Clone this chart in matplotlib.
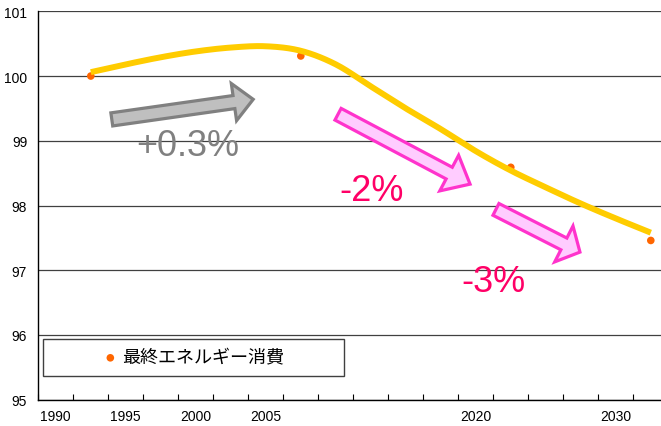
import numpy as np
import matplotlib
matplotlib.use("Agg")
import matplotlib.pyplot as plt
from matplotlib.patches import FancyArrowPatch, Rectangle

# ---- data ----
tick_years = [1990, 1995, 2000, 2005, 2020, 2030]
tick_labels = ["1990", "1995", "2000", "2005", "2020", "2030"]
point_years = [1992.5, 2007.5, 2022.5, 2032.5]
point_values = [100.0, 100.31, 98.59, 97.46]
curve_years = [1992.5, 1995.0, 1997.5, 2000.0, 2002.5, 2005.0, 2007.5, 2010.0,
               2012.5, 2015.0, 2017.5, 2020.0, 2022.5, 2025.0, 2027.5, 2030.0, 2032.5]
curve_values = [100.06, 100.18, 100.29, 100.38, 100.44, 100.46, 100.39, 100.18,
                99.84, 99.50, 99.18, 98.84, 98.54, 98.28, 98.03, 97.80, 97.58]
legend_label = "最終エネルギー消費"
rate_labels = ["+0.3%", "-2%", "-3%"]

plt.rcParams['font.family'] = ['Liberation Sans', 'DejaVu Sans']

fig = plt.figure(figsize=(6.61, 4.27), dpi=100)
ax = fig.add_axes([38.3 / 661, 26.3 / 427, 630 / 661, 388.4 / 427])

x0 = 1988.75
ax.set_xlim(x0, x0 + 18 * 2.5)
ax.set_ylim(95, 101)

# smooth curve (Catmull-Rom through the trend values)
def catmull(xs, ys, n=20):
    xs = np.asarray(xs, float); ys = np.asarray(ys, float)
    px = np.concatenate([[2 * xs[0] - xs[1]], xs, [2 * xs[-1] - xs[-2]]])
    py = np.concatenate([[2 * ys[0] - ys[1]], ys, [2 * ys[-1] - ys[-2]]])
    ox, oy = [], []
    t = np.linspace(0, 1, n, endpoint=False)
    for i in range(1, len(px) - 2):
        for arr, out in ((px, ox), (py, oy)):
            p0, p1, p2, p3 = arr[i - 1], arr[i], arr[i + 1], arr[i + 2]
            out.extend(0.5 * ((2 * p1) + (-p0 + p2) * t + (2 * p0 - 5 * p1 + 4 * p2 - p3) * t ** 2
                              + (-p0 + 3 * p1 - 3 * p2 + p3) * t ** 3))
    ox.append(xs[-1]); oy.append(ys[-1])
    return np.array(ox), np.array(oy)

ax.yaxis.grid(True, color='#404040', lw=0.9, zorder=0)
ax.set_axisbelow(True)

ax.scatter(point_years, point_values, s=30, color='#FF6600', zorder=3,
           label=legend_label, edgecolors='none')
sx, sy = catmull(curve_years, curve_values)
ax.plot(sx, sy, color='#FFCC00', lw=4.3, solid_capstyle='butt', zorder=4)

# ticks
ax.set_xticks(tick_years)
ax.set_xticklabels(tick_labels)
ax.set_xticks([x0 + 2.5 * k for k in range(19)], minor=True)
ax.tick_params(axis='x', which='major', length=0, pad=7, labelsize=10)
ax.tick_params(axis='x', which='minor', length=4, direction='in', width=0.8)
ax.set_yticks([95, 96, 97, 98, 99, 100, 101])
ax.tick_params(axis='y', length=0, pad=8, labelsize=10)
for s in ['top', 'right']:
    ax.spines[s].set_visible(False)
for s in ['left', 'bottom']:
    ax.spines[s].set_color('black')
    ax.spines[s].set_linewidth(1.0)

# arrows
def block_arrow(tail, tip, tw, hw, hl, fc, ec):
    a = FancyArrowPatch(tail, tip, arrowstyle=f"simple,head_width={hw},head_length={hl},tail_width={tw}",
                        mutation_scale=1, fc=fc, ec=ec, lw=2.3, shrinkA=0, shrinkB=0, zorder=5,
                        joinstyle='miter')
    ax.add_patch(a)

block_arrow((1994.0, 99.33), (2004.1, 99.64), 9.5, 27, 14, '#BFBFBF', '#808080')
block_arrow((2010.16, 99.41), (2019.59, 98.33), 9.5, 29, 17, '#FFCCFF', '#FF33CC')
block_arrow((2021.44, 97.94), (2027.44, 97.28), 9.5, 29, 13, '#FFCCFF', '#FF33CC')

ax.text(1999.44, 98.93, rate_labels[0], color='#808080', fontsize=26, ha='center', va='center', zorder=6)
ax.text(2012.55, 98.23, rate_labels[1], color='#FF0066', fontsize=26, ha='center', va='center', zorder=6)
ax.text(2021.23, 96.83, rate_labels[2], color='#FF0066', fontsize=26, ha='center', va='center', zorder=6)

# legend frame + centred legend entry
bx0, by0, bw, bh = 0.0075, 0.061, 0.478, 0.095
ax.add_patch(Rectangle((bx0, by0), bw, bh, transform=ax.transAxes, fc='white',
                       ec='#404040', lw=1.0, zorder=7))
leg = ax.legend(loc='center', bbox_to_anchor=(bx0 + bw / 2, by0 + bh / 2), frameon=False,
                borderaxespad=0, borderpad=0, handletextpad=0.25, handlelength=0.8,
                prop={'family': ['Noto Sans CJK JP', 'DejaVu Sans'], 'size': 13})
leg.set_zorder(8)

fig.savefig('out.png', dpi=100)
